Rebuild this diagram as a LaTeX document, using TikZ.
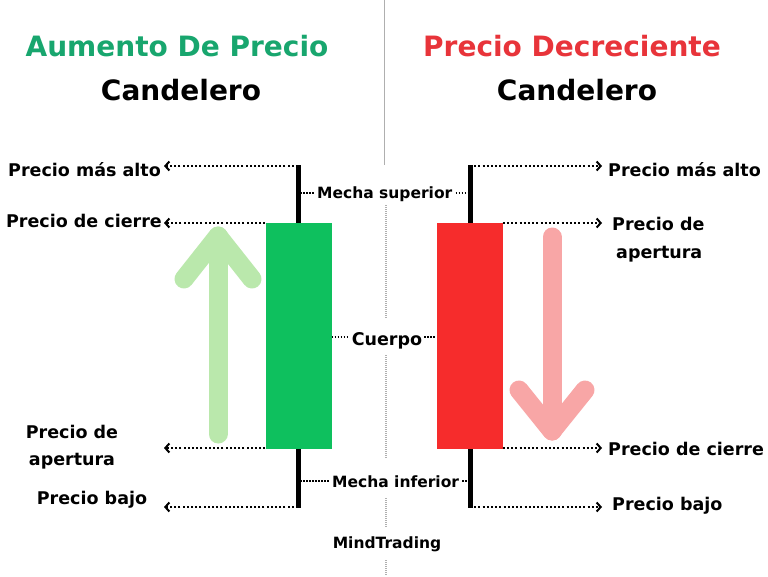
\documentclass[tikz,border=0pt]{standalone}
\usepackage{fontspec}
\setmainfont{DejaVu Sans}
\usetikzlibrary{arrows.meta}
\definecolor{upgreen}{RGB}{24,166,110}
\definecolor{downred}{RGB}{232,52,58}
\definecolor{bodygreen}{RGB}{14,192,94}
\definecolor{bodyred}{RGB}{246,44,44}
\definecolor{arrgreen}{RGB}{186,232,172}
\definecolor{arrred}{RGB}{248,166,166}
\definecolor{sepgray}{RGB}{175,175,175}
\begin{document}
\begin{tikzpicture}[x=1pt,y=-1pt,
  title/.style={font=\fontsize{28}{32}\selectfont\bfseries, inner sep=0pt, anchor=base},
  lbl/.style={font=\fontsize{17.5}{20}\selectfont\bfseries, inner sep=0pt},
  midlbl/.style={font=\fontsize{15.5}{18}\selectfont\bfseries, inner sep=0pt},
  lead/.style={black, line width=2pt, dash pattern=on 2pt off 2.2pt, -{Straight Barb[length=4pt,width=9pt]}},
  tick/.style={black, line width=1.5pt, dash pattern=on 1.5pt off 1.5pt},
  wick/.style={line width=5pt},
  candle/.style={inner sep=0pt, minimum width=66pt, minimum height=226pt},
  bigarrow/.style={line width=19pt, line cap=round, line join=round},
  sep/.style={sepgray, line width=1pt},
  sepdot/.style={sepgray, line width=1.2pt, dash pattern=on 1pt off 1pt}]
\useasboundingbox[fill=white] (0,0) rectangle (768,576);

% separator
\coordinate (s0) at (384,0); \coordinate (s1) at (384,165);
\draw[sep] (s0) -- (s1);
\coordinate (d1) at (386,205); \coordinate (d2) at (386,318);
\coordinate (d3) at (386,355); \coordinate (d4) at (386,459);
\coordinate (d5) at (386,498); \coordinate (d6) at (386,528);
\coordinate (d7) at (386,560); \coordinate (d8) at (386,576);
\draw[sepdot] (d1) -- (d2) (d3) -- (d4) (d5) -- (d6) (d7) -- (d8);

% titles
\node[title, text=upgreen] (t1) at (177,56) {Aumento De Precio};
\node[title] (t2) at (181,100) {Candelero};
\node[title, text=downred] (t3) at (572,56) {Precio Decreciente};
\node[title] (t4) at (577,100) {Candelero};

% big arrows
\coordinate (ga0) at (218,434); \coordinate (ga1) at (218,236);
\coordinate (gal) at (184,279); \coordinate (gar) at (252,279);
\draw[bigarrow, arrgreen] (ga0) -- (ga1);
\draw[bigarrow, arrgreen] (gal) -- (ga1) -- (gar);
\coordinate (ra0) at (552,237); \coordinate (ra1) at (552,431);
\coordinate (ral) at (519,390); \coordinate (rar) at (585,390);
\draw[bigarrow, arrred] (ra0) -- (ra1);
\draw[bigarrow, arrred] (ral) -- (ra1) -- (rar);

% green candle
\coordinate (gwt) at (298,165); \coordinate (gwb) at (298,508);
\draw[wick] (gwt) -- (gwb);
\node[candle, fill=bodygreen] (gbody) at (298.5,336) {};
% red candle
\coordinate (rwt) at (470,165); \coordinate (rwb) at (470,508);
\draw[wick] (rwt) -- (rwb);
\node[candle, fill=bodyred] (rbody) at (469.5,336) {};

% left labels
\node[lbl, anchor=base east] (Lhit) at (161,176) {Precio más alto};
\node[lbl, anchor=base east] (Lclt) at (162,227) {Precio de cierre};
\node[lbl, anchor=base] (Lopa) at (72,438) {Precio de};
\node[lbl, anchor=base] (Lopb) at (72,465) {apertura};
\node[lbl, anchor=base] (Llot) at (92,504) {Precio bajo};
\coordinate (Lhi) at (164,166);
\coordinate (Lcl) at (164,223);
\coordinate (Lop) at (164,448);
\coordinate (Llo) at (164,507);
\draw[lead] (gwt |- Lhi) -- (Lhi);
\draw[lead] (gbody.north west |- Lcl) -- (Lcl);
\draw[lead] (gbody.south west |- Lop) -- (Lop);
\draw[lead] (gwb |- Llo) -- (Llo);

% right labels
\node[lbl, anchor=base west] (Rhit) at (608,176) {Precio más alto};
\node[lbl, anchor=base west] (Ropa) at (612,230) {Precio de};
\node[lbl, anchor=base west] (Ropb) at (616,258) {apertura};
\node[lbl, anchor=base west] (Rclt) at (608,455) {Precio de cierre};
\node[lbl, anchor=base west] (Rlot) at (612,510) {Precio bajo};
\coordinate (Rhi) at (602,166);
\coordinate (Rop) at (602,223);
\coordinate (Rcl) at (602,448);
\coordinate (Rlo) at (602,507);
\draw[lead] (rwt |- Rhi) -- (Rhi);
\draw[lead] (rbody.north east |- Rop) -- (Rop);
\draw[lead] (rbody.south east |- Rcl) -- (Rcl);
\draw[lead] (rwb |- Rlo) -- (Rlo);

% middle labels
\node[midlbl, anchor=base west] (msup) at (317,198) {Mecha superior};
\node[lbl, anchor=base] (cuer) at (387,345) {Cuerpo};
\node[midlbl, anchor=base west] (minf) at (332,487) {Mecha inferior};
\node[midlbl, anchor=base] (mind) at (387,548) {MindTrading};
\coordinate (msy) at (0,193);
\coordinate (cuy) at (0,337);
\coordinate (miy) at (0,481);
\draw[tick, shorten <=2pt, shorten >=3pt] (gwt |- msy) -- (msup.west |- msy);
\draw[tick, shorten <=3pt, shorten >=2pt] (msup.east |- msy) -- (rwt |- msy);
\draw[tick, shorten >=2pt] (gbody.east |- cuy) -- (cuer.west |- cuy);
\draw[tick, shorten <=2pt] (cuer.east |- cuy) -- (rbody.west |- cuy);
\draw[tick, shorten <=2pt, shorten >=3pt] (gwb |- miy) -- (minf.west |- miy);
\draw[tick, shorten <=3pt, shorten >=2pt] (minf.east |- miy) -- (rwb |- miy);
\end{tikzpicture}
\end{document}
